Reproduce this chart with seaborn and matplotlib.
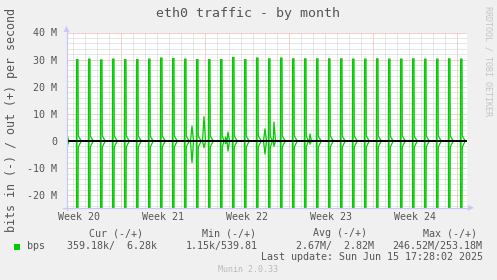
import numpy as np
import pandas as pd
import matplotlib
matplotlib.use("Agg")
import matplotlib.pyplot as plt
import seaborn as sns
from matplotlib.patches import Polygon, Rectangle
from matplotlib.lines import Line2D
from matplotlib.ticker import FixedLocator, NullFormatter

# ---------------- data (values in M bits/s, time in hours from graph start) ----------
spike_hour_first = 20.6            # first daily spike (hours from left edge)
spike_out = [30.0, 30.2, 29.9, 30.2, 30.0, 30.0, 30.2, 30.6, 30.4, 30.2, 30.0,
             30.0, 30.0, 30.8, 30.0, 30.6, 30.3, 30.6, 30.3, 30.3, 30.3, 30.3,
             30.3, 30.2, 30.2, 30.3, 30.2, 30.2, 30.3, 30.2, 30.2, 30.3, 30.2]
spike_in = [-24.8] * 33
bump_out = [1.9, 1.8, 1.9, 1.8, 1.9, 1.8, 1.8, 1.8, 1.9, 1.8, 1.8,
            1.8, 1.9, 1.8, 1.8, 1.9, 1.8, 1.8, 1.9, 1.8, 1.8, 1.9,
            1.8, 1.8, 1.9, 1.8, 1.8, 1.9, 1.8, 1.8, 1.9, 1.8, 1.9]
bump_in = [-2.2, -2.1, -2.2, -2.1, -2.2, -2.1, -2.2, -2.1, -2.2, -2.1, -2.2,
           -2.1, -2.2, -2.1, -2.2, -2.1, -2.2, -2.1, -2.2, -2.1, -2.2, -2.1,
           -2.2, -2.1, -2.2, -2.1, -2.2, -2.1, -2.2, -2.1, -2.2, -2.1, -2.2]
start_out, start_in = 2.2, -2.1
extra_hours = [250, 274, 317, 322, 396, 414, 486]
extra_out = [5.5, 9.0, 1.5, 3.3, 4.5, 7.0, 2.6]
extra_in = [-8.0, -2.5, -1.0, -3.7, -4.8, -2.0, -1.2]

week_labels = ["Week 20", "Week 21", "Week 22", "Week 23", "Week 24"]
ytick_values = [-20, -10, 0, 10, 20, 30, 40]
ytick_labels = ["-20 M", "-10 M", "0", "10 M", "20 M", "30 M", "40 M"]

title = "eth0 traffic - by month"
ylabel = "bits in (-) / out (+) per second"
legend_name = "bps"
col_headers = ["Cur (-/+)", "Min (-/+)", "Avg (-/+)", "Max (-/+)"]
col_values = ["359.18k/  6.28k", "1.15k/539.81", "2.67M/  2.82M", "246.52M/253.18M"]
last_update = "Last update: Sun Jun 15 17:28:02 2025"
watermark = "RRDTOOL / TOBI OETIKER"
version = "Munin 2.0.33"

# ---------------- build series ----------------
pts_out = [(0.0, start_out), (4.0, 0.0)]
pts_in = [(0.0, start_in), (4.0, 0.0)]
for k in range(len(spike_out)):
    h = spike_hour_first + 24 * k
    pts_out += [(h - 1.8, 0.0), (h - 1.4, spike_out[k]), (h + 1.4, spike_out[k]),
                (h + 1.9, bump_out[k]), (h + 8.0, 0.0)]
    pts_in += [(h - 1.8, 0.0), (h - 1.4, spike_in[k]), (h + 1.4, spike_in[k]),
               (h + 1.9, bump_in[k]), (h + 8.0, 0.0)]
for h, vo, vi in zip(extra_hours, extra_out, extra_in):
    pts_out += [(h - 3, 0.0), (h, vo), (h + 3, 0.0)]
    pts_in += [(h - 3, 0.0), (h, vi), (h + 3, 0.0)]
pts_out.append((800.0, 0.0))
pts_in.append((800.0, 0.0))
pts_out.sort()
pts_in.sort()
df_out = pd.DataFrame(pts_out, columns=["hour", "val"])
df_in = pd.DataFrame(pts_in, columns=["hour", "val"])

# ---------------- figure ----------------
W, H = 497, 280
BG = "#F0F0F0"
TXT = "#555555"
GREEN = "#00CC00"
LIGHT = "#6ADF6A"
AXC = "#C8C8F8"
MONO = "DejaVu Sans Mono"

sns.set_style("white")
plt.rcParams["font.family"] = [MONO, "DejaVu Sans"]

fig = plt.figure(figsize=(W / 100, H / 100), dpi=100, facecolor=BG)
top_px, bot_px, left_px, right_px = 32.5, 207.5, 67, 467
ax = fig.add_axes([left_px / W, 1 - bot_px / H, (right_px - left_px) / W, (bot_px - top_px) / H])
ax.set_facecolor("white")

ax.fill_between(df_out["hour"], 0, df_out["val"], where=df_out["val"].abs() > 10,
                color=LIGHT, lw=0, zorder=2.5)
ax.fill_between(df_in["hour"], 0, df_in["val"], where=df_in["val"].abs() > 10,
                color=LIGHT, lw=0, zorder=2.5)
sns.lineplot(data=df_in, x="hour", y="val", ax=ax, color=GREEN, lw=0.9,
             estimator=None, sort=False, zorder=3)
sns.lineplot(data=df_out, x="hour", y="val", ax=ax, color=GREEN, lw=0.9,
             estimator=None, sort=False, zorder=3)
ax.axhline(0, color="black", lw=1.4, zorder=4)

ax.set_xlim(0, 800)
ax.set_ylim(-24.5, 40)

# grids
ax.xaxis.set_major_locator(FixedLocator([108 + 168 * i for i in range(5)]))
ax.xaxis.set_minor_locator(FixedLocator([12 + 24 * i for i in range(34)]))
ax.yaxis.set_major_locator(FixedLocator(ytick_values))
ax.yaxis.set_minor_locator(FixedLocator([v for v in range(-24, 41, 2)]))
ax.xaxis.set_major_formatter(NullFormatter())
ax.set_yticklabels(ytick_labels)
ax.grid(which="minor", color="#D0D0D0", linestyle=(0, (1, 1)), lw=0.72, zorder=1)
ax.grid(which="major", color="#F0A0A0", linestyle=(0, (1, 1)), lw=0.72, zorder=2)
ax.set_axisbelow(True)
ax.tick_params(axis="x", which="major", length=3, width=0.72, color="#F0A0A0", direction="out")
ax.tick_params(axis="x", which="minor", length=2, width=0.72, color="#C0C0C0", direction="out")
ax.tick_params(axis="y", which="major", length=2, width=0.72, color="#F0A0A0", direction="out",
               labelsize=7.2, labelcolor=TXT, pad=5)
ax.tick_params(axis="y", which="minor", length=0)
for lab in ax.get_yticklabels():
    lab.set_fontfamily(MONO)
for s in ax.spines.values():
    s.set_visible(False)
ax.set_xlabel("")
ax.set_ylabel("")

# week labels
for i, lab in enumerate(week_labels):
    ax.text(24 + 168 * i, -0.025, lab, transform=ax.get_xaxis_transform(),
            ha="center", va="top", fontsize=7.2, color=TXT, family=MONO)

# axis lines with arrows (figure pixel coords)
def fx(px):
    return px / W

def fy(py):
    return 1 - py / H

fig.add_artist(Line2D([fx(66.5), fx(66.5)], [fy(210), fy(30)], color=AXC, lw=0.9))
fig.add_artist(Line2D([fx(63), fx(470)], [fy(207.8), fy(207.8)], color=AXC, lw=0.9))
fig.add_artist(Polygon([[fx(63.5), fy(32)], [fx(69.5), fy(32)], [fx(66.5), fy(26)]],
                       closed=True, color=AXC, lw=0))
fig.add_artist(Polygon([[fx(468), fy(204.8)], [fx(468), fy(210.8)], [fx(474), fy(207.8)]],
                       closed=True, color=AXC, lw=0))

# texts
fig.text(0.5, fy(14), title, ha="center", va="center", fontsize=9.5, color=TXT, family=MONO)
fig.text(fx(12), fy(120), ylabel, ha="center", va="center", rotation=90,
         fontsize=8.4, color=TXT, family=MONO)
fig.text(fx(488), fy(61), watermark, ha="center", va="center", rotation=270,
         fontsize=6.0, color="#C4C4C4", family=MONO)

header_x = [89, 202, 313, 423]
value_x = [67, 186, 296, 392]
for hx, ht in zip(header_x, col_headers):
    fig.text(fx(hx), fy(233), ht, ha="left", va="center", fontsize=7.2, color=TXT, family=MONO)
for vx, vt in zip(value_x, col_values):
    fig.text(fx(vx), fy(246), vt, ha="left", va="center", fontsize=7.2, color=TXT, family=MONO)
fig.add_artist(Rectangle((fx(14), fy(249.5)), 6 / W, 6 / H, color=GREEN, lw=0))
fig.text(fx(27), fy(246), legend_name, ha="left", va="center", fontsize=7.2, color=TXT, family=MONO)
fig.text(fx(483), fy(257.5), last_update, ha="right", va="center", fontsize=7.2, color=TXT, family=MONO)
fig.text(0.5, fy(269), version, ha="center", va="center", fontsize=6.0, color="#BBBBBB", family=MONO)

fig.savefig("out.png", dpi=100, facecolor=BG)
